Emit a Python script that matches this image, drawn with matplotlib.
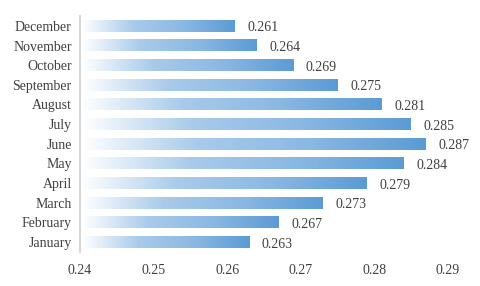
import numpy as np
import matplotlib.pyplot as plt
from matplotlib.colors import LinearSegmentedColormap

months = ['January', 'February', 'March', 'April', 'May', 'June',
          'July', 'August', 'September', 'October', 'November', 'December']
values = [0.263, 0.267, 0.273, 0.279, 0.284, 0.287,
          0.285, 0.281, 0.275, 0.269, 0.264, 0.261]
xticks = [0.24, 0.25, 0.26, 0.27, 0.28, 0.29]

plt.rcParams['font.family'] = ['Liberation Serif', 'DejaVu Serif']

fig = plt.figure(figsize=(4.8, 2.86), dpi=100)
ax = fig.add_axes([0.1667, 0.119, 0.8125, 0.825])

base = 0.24
cmap = LinearSegmentedColormap.from_list('grad', ['#ffffff', '#a9cbeb', '#8ab8e3', '#5b9bd5'])
grad = np.linspace(0, 1, 256).reshape(1, -1)
h = 0.6

for i, v in enumerate(values):
    ax.imshow(grad, cmap=cmap, aspect='auto', interpolation='bilinear',
              extent=[base + 0.0003, v, i - h / 2, i + h / 2], zorder=2)
    ax.annotate(f'{v:.3f}', (v, i), xytext=(9, -1.5), textcoords='offset points',
                ha='left', va='center', fontsize=10, color='#404040')

ax.set_xlim(0.24, 0.293)
ax.set_ylim(-0.5, 11.5)
ax.set_yticks(range(len(months)))
ax.set_yticklabels(months, fontsize=10, color='#404040')
ax.set_xticks(xticks)
ax.set_xticklabels([f'{t:.2f}' for t in xticks], fontsize=10, color='#404040')
ax.tick_params(axis='y', length=0, pad=6)
ax.tick_params(axis='x', length=0, pad=9)
for s in ['top', 'right', 'bottom']:
    ax.spines[s].set_visible(False)
ax.spines['left'].set_color('#d0d0d0')
ax.spines['left'].set_linewidth(1.2)

fig.savefig('out.png', dpi=100)
